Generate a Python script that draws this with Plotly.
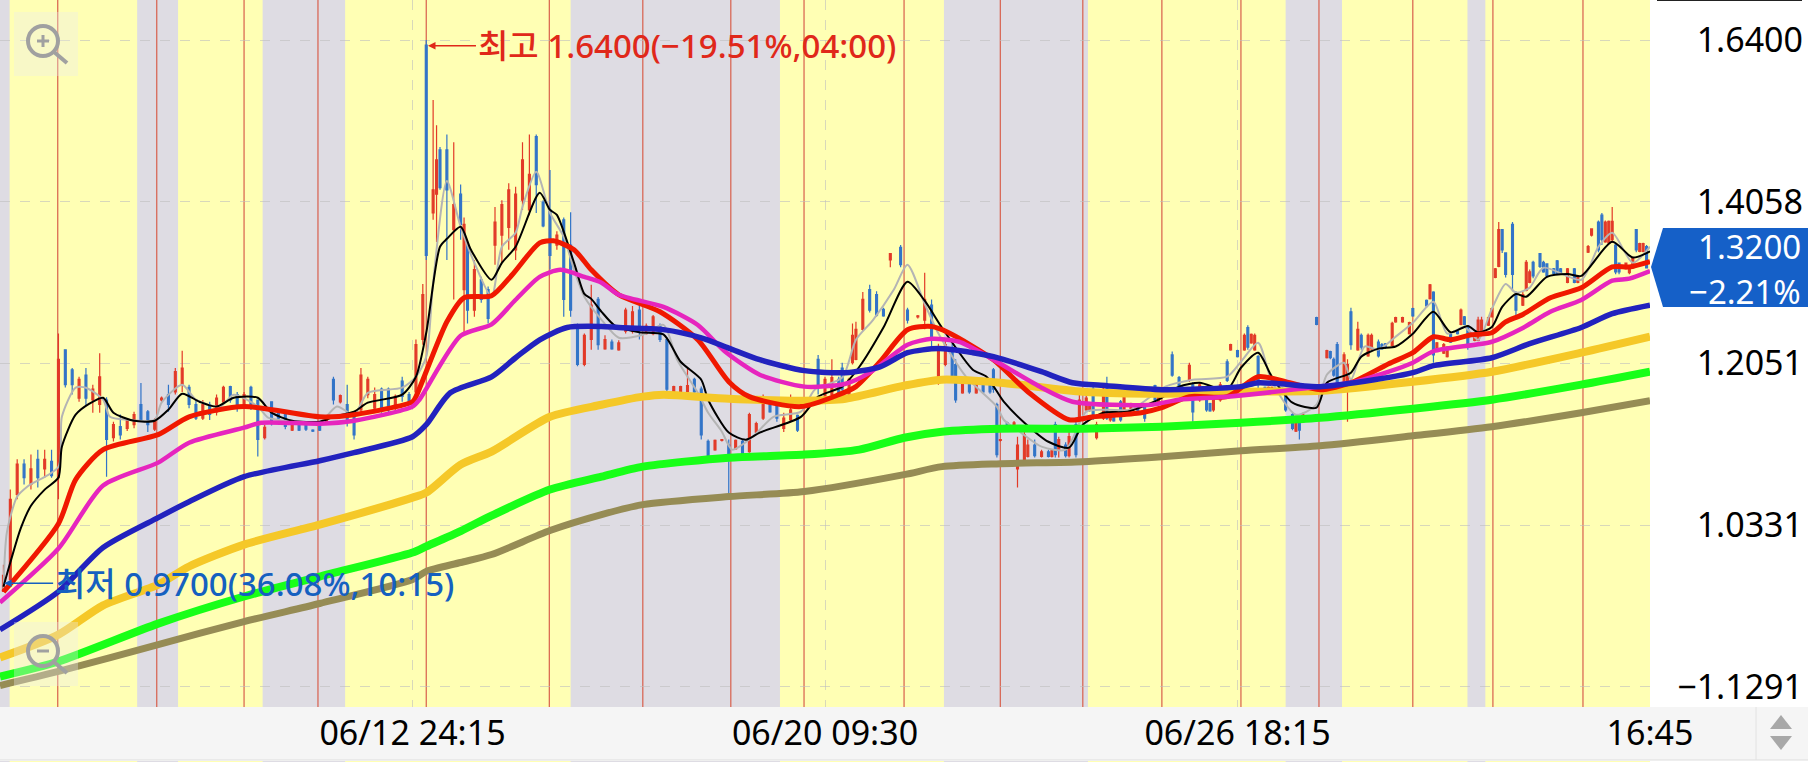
import math
import plotly.graph_objects as go

W, H, PLOT_R, PLOT_B = 1811, 762, 1650, 707

x_tick_idx = [120, 240, 360, 480]
x_tick_text = ["06/12 24:15", "06/20 09:30", "06/26 18:15", "16:45"]
y_tick_vals = [1.64, 1.4058, 1.2051, 1.0331, 0.8857]
y_tick_text = ["1.6400", "1.4058", "1.2051", "1.0331", "−1.1291"]
last_price = "1.3200"
last_change = "−2.21%"
high_label = "최고 1.6400(−19.51%,04:00)"
low_label = "최저 0.9700(36.08%,10:15)"

# session bands and session-start markers, in bar index
grey_bands = [(0, 2.8), (39.9, 51.8), (76.4, 100.4), (166, 226.9), (274.6, 316.5), (374, 390.4), (426.9, 432.1)]
session_marks = [16.8, 45.6, 71, 92.5, 124, 159.8, 187, 212.6, 233.9, 263, 291, 315, 338, 361, 383.7, 411, 434.3, 460.5]

bar_idx = [1,3,5,7,9,11,13,15,17,19,21,23,25,27,29,31,33,35,37,39,
 41,43,45,47,49,51,53,55,57,59,61,63,65,67,69,71,73,75,77,79,
 81,83,85,87,89,91,93,95,97,99,101,103,105,107,109,111,113,115,117,119,
 121,123,124,126,127,128,130,132,134,135,136,138,140,142,144,146,148,150,152,154,
 156,158,160,162,164,166,168,170,172,174,176,178,180,182,184,186,188,190,192,194,
 196,198,200,202,204,206,208,210,212,214,216,218,220,222,224,226,228,230,232,238,
 240,242,244,245,247,248,249,251,253,255,257,259,262,264,267,269,271,273,275,277,
 278,280,282,284,286,288,289,290,291,293,295,296,298,299,301,303,305,306,307,308,
 310,311,313,314,316,317,318,319,321,322,323,324,326,327,329,331,333,336,337,341,
 343,344,346,347,349,351,352,353,355,357,358,360,362,363,364,365,366,368,369,370,
 372,373,374,376,377,378,379,383,386,387,388,389,391,392,393,395,396,398,399,401,
 402,403,405,406,408,410,411,415,416,417,418,420,421,422,424,425,426,427,429,430,
 431,433,434,435,436,437,438,440,441,443,444,445,446,448,449,450,452,453,454,456,
 458,459,462,463,465,466,467,468,469,470,471,473,474,475,476,477,478,479]

bar_open = [.970,.981,1.064,1.095,1.074,1.100,1.090,1.098,1.081,1.221,1.198,1.166,1.192,1.164,1.159,1.164,1.123,1.135,1.133,1.137,
 1.159,1.151,1.132,1.164,1.170,1.173,1.181,1.178,1.159,1.144,1.159,1.151,1.162,1.179,1.170,1.159,1.178,1.164,1.123,1.162,
 1.151,1.149,1.131,1.138,1.136,1.131,1.139,1.140,1.187,1.162,1.159,1.149,1.153,1.170,1.155,1.176,1.176,1.155,1.185,1.170,
 1.173,1.233,1.632,1.391,1.416,1.477,1.477,1.369,1.416,1.293,1.349,1.268,1.305,1.293,1.349,1.362,1.372,1.343,1.408,1.395,
 1.496,1.405,1.395,1.349,1.382,1.349,1.250,1.204,1.233,1.281,1.222,1.230,1.221,1.243,1.243,1.268,1.240,1.240,1.249,1.233,
 1.172,1.172,1.173,1.187,1.176,1.119,1.110,1.120,1.115,1.111,1.119,1.108,1.129,1.144,1.160,1.159,1.133,1.142,1.147,1.210,
 1.164,1.170,1.187,1.200,1.170,1.206,1.210,1.245,1.293,1.287,1.269,1.330,1.346,1.268,1.260,1.256,1.274,1.185,1.204,1.221,
 1.204,1.172,1.185,1.172,1.185,1.182,1.198,1.159,1.120,1.139,1.131,1.090,1.095,1.103,1.115,1.103,1.108,1.103,1.137,1.110,
 1.115,1.104,1.137,1.142,1.153,1.153,1.176,1.123,1.144,1.181,1.142,1.148,1.162,1.153,1.152,1.159,1.157,1.180,1.161,1.215,
 1.189,1.178,1.186,1.181,1.164,1.165,1.160,1.153,1.164,1.207,1.221,1.220,1.221,1.247,1.229,1.221,1.213,1.178,1.172,1.172,
 1.172,1.177,1.170,1.148,1.130,1.138,1.140,1.259,1.212,1.219,1.210,1.227,1.181,1.181,1.266,1.221,1.238,1.214,1.222,1.230,
 1.227,1.228,1.226,1.254,1.254,1.240,1.270,1.280,1.282,1.290,1.221,1.217,1.213,1.239,1.243,1.251,1.260,1.249,1.232,1.232,
 1.240,1.250,1.260,1.308,1.322,1.369,1.339,1.376,1.287,1.274,1.292,1.302,1.327,1.338,1.327,1.325,1.319,1.329,1.319,1.302,
 1.319,1.302,1.340,1.362,1.379,1.388,1.353,1.352,1.356,1.349,1.326,1.319,1.314,1.320,1.369,1.341,1.341,1.347]

bar_high = [.995,1.069,1.100,1.100,1.105,1.110,1.110,1.110,1.240,1.221,1.200,1.190,1.200,1.181,1.217,1.167,1.140,1.148,1.144,1.151,
 1.183,1.153,1.144,1.168,1.181,1.200,1.220,1.181,1.164,1.164,1.162,1.170,1.180,1.180,1.173,1.173,1.180,1.164,1.137,1.162,
 1.153,1.151,1.139,1.140,1.138,1.132,1.140,1.144,1.190,1.170,1.181,1.151,1.200,1.190,1.178,1.178,1.178,1.170,1.190,1.173,
 1.233,1.300,1.640,1.549,1.512,1.481,1.499,1.488,1.429,1.385,1.349,1.330,1.309,1.297,1.399,1.408,1.431,1.426,1.488,1.499,
 1.499,1.408,1.449,1.367,1.385,1.392,1.252,1.240,1.299,1.284,1.238,1.233,1.232,1.271,1.273,1.278,1.252,1.262,1.252,1.236,
 1.180,1.180,1.200,1.189,1.179,1.121,1.121,1.121,1.121,1.121,1.121,1.150,1.140,1.170,1.161,1.164,1.150,1.170,1.148,1.215,
 1.190,1.210,1.190,1.206,1.189,1.252,1.254,1.290,1.299,1.291,1.271,1.339,1.349,1.271,1.262,1.314,1.281,1.228,1.233,1.228,
 1.210,1.187,1.187,1.187,1.187,1.183,1.200,1.161,1.121,1.140,1.141,1.124,1.135,1.121,1.121,1.110,1.110,1.110,1.140,1.124,
 1.118,1.129,1.140,1.170,1.170,1.159,1.179,1.140,1.183,1.190,1.150,1.150,1.164,1.170,1.161,1.160,1.159,1.181,1.176,1.219,
 1.191,1.180,1.206,1.184,1.184,1.167,1.161,1.170,1.184,1.210,1.228,1.221,1.240,1.250,1.240,1.240,1.215,1.179,1.179,1.179,
 1.178,1.178,1.172,1.150,1.141,1.140,1.150,1.260,1.221,1.220,1.212,1.230,1.218,1.210,1.271,1.254,1.240,1.240,1.240,1.233,
 1.229,1.229,1.254,1.260,1.260,1.254,1.271,1.281,1.300,1.291,1.230,1.229,1.225,1.240,1.245,1.270,1.261,1.250,1.240,1.260,
 1.260,1.260,1.271,1.320,1.379,1.370,1.340,1.379,1.291,1.290,1.330,1.318,1.329,1.339,1.329,1.326,1.320,1.330,1.320,1.320,
 1.320,1.310,1.349,1.371,1.381,1.391,1.381,1.381,1.399,1.352,1.327,1.327,1.320,1.334,1.370,1.352,1.352,1.349]

bar_low = [.970,.976,1.059,1.074,1.069,1.071,1.081,1.081,1.059,1.178,1.170,1.162,1.157,1.150,1.150,1.082,1.119,1.121,1.130,1.133,
 1.142,1.129,1.130,1.162,1.151,1.170,1.173,1.155,1.142,1.142,1.142,1.147,1.159,1.161,1.151,1.159,1.153,1.103,1.121,1.136,
 1.142,1.132,1.130,1.130,1.130,1.129,1.130,1.139,1.159,1.160,1.135,1.121,1.150,1.166,1.150,1.150,1.150,1.150,1.162,1.158,
 1.170,1.227,1.330,1.382,1.353,1.422,1.330,1.281,1.356,1.240,1.252,1.260,1.277,1.252,1.324,1.327,1.343,1.330,1.395,1.388,
 1.391,1.372,1.318,1.343,1.260,1.260,1.202,1.202,1.221,1.221,1.221,1.221,1.220,1.240,1.240,1.233,1.239,1.238,1.230,1.172,
 1.171,1.171,1.172,1.172,1.121,1.102,1.109,1.119,1.061,1.110,1.102,1.107,1.128,1.142,1.150,1.140,1.129,1.140,1.129,1.170,
 1.161,1.168,1.161,1.172,1.168,1.204,1.209,1.243,1.265,1.260,1.260,1.321,1.321,1.252,1.258,1.245,1.225,1.181,1.202,1.184,
 1.161,1.171,1.171,1.171,1.171,1.171,1.172,1.102,1.119,1.130,1.130,1.071,1.093,1.102,1.102,1.102,1.102,1.102,1.102,1.102,
 1.102,1.102,1.102,1.139,1.152,1.151,1.142,1.121,1.142,1.142,1.140,1.140,1.140,1.151,1.151,1.151,1.140,1.161,1.160,1.190,
 1.179,1.164,1.184,1.140,1.162,1.151,1.151,1.151,1.162,1.184,1.220,1.212,1.220,1.221,1.228,1.220,1.172,1.171,1.171,1.171,
 1.171,1.171,1.151,1.131,1.129,1.121,1.139,1.250,1.211,1.210,1.190,1.179,1.180,1.140,1.221,1.220,1.221,1.213,1.221,1.212,
 1.221,1.222,1.225,1.253,1.253,1.239,1.260,1.271,1.281,1.206,1.220,1.216,1.212,1.229,1.239,1.250,1.250,1.221,1.231,1.231,
 1.239,1.249,1.259,1.307,1.321,1.339,1.308,1.291,1.262,1.273,1.291,1.301,1.307,1.320,1.314,1.308,1.312,1.312,1.312,1.301,
 1.301,1.301,1.339,1.360,1.340,1.349,1.352,1.351,1.352,1.312,1.312,1.318,1.312,1.319,1.340,1.340,1.340,1.320]

bar_close = [.985,1.059,1.095,1.081,1.090,1.081,1.100,1.083,1.210,1.181,1.181,1.187,1.166,1.176,1.190,1.121,1.137,1.126,1.142,1.148,
 1.142,1.137,1.141,1.166,1.159,1.196,1.200,1.159,1.144,1.159,1.148,1.166,1.178,1.164,1.155,1.170,1.159,1.121,1.134,1.138,
 1.144,1.135,1.137,1.131,1.132,1.130,1.131,1.143,1.164,1.169,1.142,1.126,1.192,1.187,1.170,1.153,1.153,1.168,1.168,1.162,
 1.227,1.287,1.336,1.422,1.463,1.425,1.422,1.402,1.376,1.376,1.268,1.318,1.281,1.258,1.379,1.402,1.422,1.416,1.463,1.443,
 1.429,1.374,1.336,1.362,1.281,1.268,1.204,1.238,1.274,1.227,1.233,1.222,1.229,1.268,1.266,1.245,1.249,1.260,1.233,1.176,
 1.179,1.179,1.180,1.173,1.126,1.104,1.120,1.121,1.100,1.120,1.103,1.148,1.138,1.166,1.151,1.144,1.144,1.153,1.131,1.181,
 1.187,1.189,1.164,1.176,1.187,1.238,1.245,1.281,1.268,1.262,1.261,1.338,1.324,1.256,1.261,1.281,1.233,1.221,1.227,1.187,
 1.164,1.185,1.173,1.185,1.173,1.173,1.176,1.105,1.121,1.131,1.139,1.115,1.126,1.115,1.104,1.108,1.103,1.109,1.105,1.121,
 1.104,1.124,1.105,1.164,1.166,1.157,1.148,1.137,1.176,1.144,1.148,1.141,1.142,1.168,1.160,1.152,1.144,1.164,1.173,1.192,
 1.180,1.166,1.203,1.151,1.181,1.153,1.152,1.168,1.181,1.186,1.227,1.213,1.238,1.224,1.239,1.238,1.181,1.172,1.178,1.178,
 1.177,1.172,1.153,1.133,1.139,1.131,1.148,1.251,1.220,1.212,1.192,1.181,1.215,1.204,1.227,1.245,1.224,1.238,1.238,1.214,
 1.222,1.224,1.252,1.259,1.259,1.253,1.261,1.273,1.299,1.215,1.229,1.227,1.224,1.230,1.240,1.268,1.251,1.224,1.239,1.256,
 1.256,1.259,1.270,1.319,1.369,1.343,1.312,1.312,1.268,1.287,1.327,1.315,1.310,1.322,1.315,1.310,1.313,1.313,1.313,1.319,
 1.302,1.308,1.347,1.370,1.343,1.356,1.379,1.380,1.380,1.315,1.315,1.326,1.319,1.333,1.343,1.351,1.351,1.320]

grey_x = [1,2,5,8,17,18,22,25,30,32,37,45,47,53,57,64,68,75,78,83,93,98,103,107,117,121,124,126,130,134,138,143,146,150,152,156,160,164,
 167,170,175,180,187,193,197,203,206,210,213,219,225,233,237,245,249,254,260,264,269,273,281,290,292,297,303,310,316,322,329,339,347,357,
 361,366,370,377,383,386,391,393,397,401,406,411,417,421,426,430,434,438,441,445,449,460,465,469,475,480]
grey_ma = [.9717,1.0261,1.0617,1.0720,1.0924,1.1455,1.1777,1.1777,1.1643,1.1455,1.1423,1.1423,1.1610,1.1811,1.1643,1.1567,1.1699,1.1567,1.1445,1.1412,1.1391,1.1567,1.1478,1.1720,1.1777,1.1901,1.2130,1.3016,1.4339,1.3728,1.3265,1.2843,1.3469,1.3649,1.3992,1.4465,1.3911,1.3597,
 1.3176,1.2843,1.2564,1.2351,1.2386,1.2503,1.2095,1.1720,1.1500,1.1294,1.1102,1.1240,1.1455,1.1511,1.1755,1.1890,1.2327,1.2564,1.2928,1.3240,1.2757,1.2400,1.1901,1.1567,1.1423,1.1284,1.1134,1.1102,1.1511,1.1533,1.1533,1.1789,1.1867,1.1901,
 1.2072,1.2292,1.1845,1.1478,1.1588,1.1924,1.2060,1.1867,1.2248,1.2212,1.2363,1.2528,1.2782,1.2400,1.2478,1.2327,1.2695,1.3000,1.2892,1.2955,1.3202,1.3052,1.3469,1.3649,1.3265,1.3469]

black_x = [1,3,6,9,13,17,18,22,26,30,33,39,45,49,53,58,63,68,75,79,85,93,97,103,107,117,121,124,128,130,134,137,143,146,150,157,160,162,167,170,172,175,179,186,193,198,204,206,212,217,221,233,238,245,250,257,264,269,274,283,287,292,298,305,311,315,321,328,337,343,349,357,361,366,370,376,383,386,393,396,401,406,411,417,422,427,430,434,437,441,444,450,456,460,469,475,480]
black_ma = [.9744,.9971,1.0298,1.0524,1.0688,1.0811,1.1133,1.1478,1.1600,1.1665,1.1500,1.1412,1.1412,1.1533,1.1710,1.1621,1.1567,1.1665,1.1665,1.1500,1.1412,1.1402,1.1455,1.1511,1.1610,1.1699,1.1901,1.2410,1.3469,1.3571,1.3728,1.3430,1.3052,1.3264,1.3470,1.4179,1.3950,1.3884,1.3264,1.2877,1.2817,1.2660,1.2490,1.2415,1.2390,1.2072,1.1867,1.1643,1.1284,1.1208,1.1284,1.1455,1.1677,1.1789,1.2014,1.2472,1.3028,1.2794,1.2472,1.1981,1.1901,1.1621,1.1391,1.1186,1.1123,1.1369,1.1500,1.1511,1.1643,1.1789,1.1833,1.1755,1.2003,1.2176,1.1901,1.1610,1.1556,1.1833,1.1947,1.2130,1.2224,1.2248,1.2398,1.2660,1.2415,1.2490,1.2415,1.2478,1.2719,1.2877,1.2843,1.3088,1.3125,1.3100,1.3532,1.3331,1.3411]

red_x = [1,17,22,30,46,55,71,93,103,120,121,130,135,143,149,157,161,167,172,180,192,203,212,218,233,244,249,256,264,271,276,289,299,311,318,332,338,346,357,366,374,384,393,404,411,417,422,428,434,438,443,451,460,469,474,480]
red_ma = [.9695,1.0347,1.0790,1.1102,1.1262,1.1455,1.1567,1.1455,1.1478,1.1621,1.1677,1.2540,1.2831,1.2855,1.3115,1.3519,1.3545,1.3430,1.3176,1.2867,1.2660,1.2327,1.1845,1.1677,1.1567,1.1699,1.1789,1.2072,1.2445,1.2484,1.2410,1.2095,1.1732,1.1423,1.1455,1.1500,1.1556,1.1677,1.1677,1.1901,1.1845,1.1755,1.1833,1.2049,1.2176,1.2363,1.2327,1.2387,1.2410,1.2540,1.2628,1.2831,1.2953,1.3213,1.3213,1.3280]

magenta_x = [0,17,30,46,55,71,76,93,103,120,122,134,143,150,157,163,170,175,180,193,203,211,221,234,246,253,264,271,279,289,303,312,335,343,357,384,393,404,411,417,434,443,451,460,469,474,480]
magenta_ma = [.9598,1.0104,1.0729,1.0966,1.1176,1.1337,1.1391,1.1380,1.1412,1.1567,1.1643,1.2374,1.2510,1.2806,1.3088,1.3176,1.3088,1.3016,1.2867,1.2719,1.2502,1.2187,1.1924,1.1789,1.1822,1.1947,1.2269,1.2338,1.2304,1.2095,1.1777,1.1621,1.1588,1.1643,1.1677,1.1789,1.1833,1.1958,1.2060,1.2193,1.2304,1.2467,1.2660,1.2803,1.3040,1.3066,1.3160]

navy_x = [0,17,30,46,55,71,93,103,120,124,131,143,150,157,165,175,180,193,204,212,221,234,246,256,264,273,283,289,303,312,322,338,361,366,384,394,411,417,434,445,460,469,480]
navy_ma = [.9353,.9699,1.0114,1.0406,1.0565,1.0820,1.0986,1.1071,1.1240,1.1369,1.1720,1.1900,1.2118,1.2327,1.2472,1.2484,1.2472,1.2447,1.2350,1.2230,1.2095,1.1970,1.1947,1.2014,1.2176,1.2224,1.2176,1.2130,1.1958,1.1833,1.1800,1.1755,1.1789,1.1833,1.1789,1.1833,1.1947,1.2027,1.2118,1.2281,1.2472,1.2637,1.2740]

gold_x = [0,17,30,46,55,71,93,120,124,134,143,160,175,187,193,212,234,246,263,274,291,315,338,361,384,411,434,460,480]
gold_ma = [.9108,.9309,.9572,.9764,.9933,1.0142,1.0337,1.0606,1.0657,1.0945,1.1082,1.1455,1.1587,1.1677,1.1699,1.1654,1.1632,1.1654,1.1800,1.1867,1.1833,1.1732,1.1710,1.1732,1.1743,1.1845,1.1958,1.2176,1.2363]

green_x = [0,17,46,71,93,120,124,134,143,160,175,187,212,234,250,263,274,291,315,338,361,384,411,434,460,480]
green_ma = [.8945,.9074,.9407,.9653,.9838,1.0066,1.0125,1.0274,1.0426,1.0688,1.0821,1.0924,1.1018,1.1050,1.1103,1.1229,1.1294,1.1326,1.1326,1.1348,1.1391,1.1445,1.1544,1.1643,1.1811,1.1958]

olive_x = [0,17,46,71,93,120,124,134,143,160,175,187,212,234,263,274,291,315,338,361,384,411,434,460,480]
olive_ma = [.8869,.8988,.9221,.9425,.9589,.9810,.9887,.9971,1.0047,1.0279,1.0436,1.0536,1.0617,1.0668,1.0841,1.0924,1.0955,1.0976,1.1028,1.1091,1.1144,1.1250,1.1348,1.1500,1.1632]

FONT = "Noto Sans, Noto Sans CJK KR, sans-serif"
YELLOW, GREY_BAND, STRIP, MARK = "#FFFFB4", "#DEDCE3", "#F5F5F5", "#D85F4C"
GRID = "rgba(190,190,190,0.6)"

def px(x):
    return x / W
def py(y):
    return (PLOT_B - y) / PLOT_B

fig = go.Figure()
fig.add_trace(go.Candlestick(
    x=bar_idx, open=bar_open, high=bar_high, low=bar_low, close=bar_close,
    increasing=dict(line=dict(color="#E23A28", width=1.2), fillcolor="#E23A28"),
    decreasing=dict(line=dict(color="#3274C8", width=1.2), fillcolor="#3274C8"),
    whiskerwidth=0, hoverinfo="skip", showlegend=False))

for xs, ys, color, width in [
    (grey_x, grey_ma, "#B4B4B4", 2),
    (black_x, black_ma, "#000000", 2),
    (olive_x, olive_ma, "#968C55", 7),
    (green_x, green_ma, "#18FF18", 8),
    (gold_x, gold_ma, "#F5C828", 8),
    (red_x, red_ma, "#F01800", 5),
    (magenta_x, magenta_ma, "#E625BE", 4.5),
    (navy_x, navy_ma, "#2222BE", 5.5),
]:
    fig.add_trace(go.Scatter(x=xs, y=ys, mode="lines",
                             line=dict(color=color, width=width, shape="spline", smoothing=0.7),
                             hoverinfo="skip", showlegend=False))

shapes = []
# bottom time strip
shapes.append(dict(type="rect", xref="paper", yref="paper", x0=0, x1=px(1808), y0=py(760), y1=py(707),
                   fillcolor=STRIP, line_width=0, layer="below"))
shapes.append(dict(type="line", xref="paper", yref="paper", x0=0, x1=px(1808), y0=py(760), y1=py(760),
                   line=dict(color="#DDDDDD", width=1), layer="below"))
shapes.append(dict(type="line", xref="paper", yref="paper", x0=px(1756), x1=px(1756), y0=py(760), y1=py(707),
                   line=dict(color="#E2E2E2", width=1), layer="below"))
shapes.append(dict(type="line", xref="paper", yref="paper", x0=px(1657), x1=px(1802), y0=1, y1=1,
                   line=dict(color="#222222", width=2), layer="below"))
# thin sliver of the chart under the strip
shapes.append(dict(type="rect", xref="x", yref="paper", x0=0, x1=480, y0=py(762), y1=py(761),
                   fillcolor=YELLOW, line_width=0, layer="below"))
for a, b in grey_bands:
    shapes.append(dict(type="rect", xref="x", yref="paper", x0=a, x1=b, y0=0, y1=1,
                       fillcolor=GREY_BAND, line_width=0, layer="below"))
    shapes.append(dict(type="rect", xref="x", yref="paper", x0=a, x1=b, y0=py(762), y1=py(761),
                       fillcolor=GREY_BAND, line_width=0, layer="below"))
for m in session_marks:
    shapes.append(dict(type="line", xref="x", yref="paper", x0=m, x1=m, y0=0, y1=1,
                       line=dict(color=MARK, width=1.2), layer="between"))

def tri(xc, half, y_tip, y_base):
    return (f"M {px(xc)} {py(y_tip)} L {px(xc + half)} {py(y_base)} L {px(xc - half)} {py(y_base)} Z")
shapes.append(dict(type="path", xref="paper", yref="paper", path=tri(1781, 11, 715, 729), fillcolor="#A8A8A8", line_width=0))
shapes.append(dict(type="path", xref="paper", yref="paper", path=tri(1781, 11, 750, 736), fillcolor="#A8A8A8", line_width=0))

# current price tag
tag = f"M {px(1651)} {py(267)} L {px(1663)} {py(228)} L {px(1808)} {py(228)} L {px(1808)} {py(307)} L {px(1663)} {py(307)} Z"
shapes.append(dict(type="path", xref="paper", yref="paper", path=tag, fillcolor="#1560C8", line_width=0))

# zoom buttons
def zoom_icon(top, plus):
    cx, cy, r = 43, top + 29, 15
    items = [
        dict(type="rect", xref="paper", yref="paper", x0=px(14), x1=px(78), y0=py(top + 64), y1=py(top),
             fillcolor="rgba(235,235,235,0.35)", line_width=0),
        dict(type="circle", xref="paper", yref="paper", x0=px(cx - r), x1=px(cx + r), y0=py(cy + r), y1=py(cy - r),
             line=dict(color="#A0A0A0", width=4)),
        dict(type="line", xref="paper", yref="paper", x0=px(cx + 11), x1=px(cx + 24), y0=py(cy + 11), y1=py(cy + 22),
             line=dict(color="#A0A0A0", width=4)),
        dict(type="line", xref="paper", yref="paper", x0=px(cx - 6), x1=px(cx + 6), y0=py(cy), y1=py(cy),
             line=dict(color="#A0A0A0", width=3)),
    ]
    if plus:
        items.append(dict(type="line", xref="paper", yref="paper", x0=px(cx), x1=px(cx), y0=py(cy + 6), y1=py(cy - 6),
                          line=dict(color="#A0A0A0", width=3)))
    return items
shapes += zoom_icon(12, True) + zoom_icon(622, False)

annotations = [
    dict(x=124.5, y=math.log10(1.631), xref="x", yref="y", text=high_label, showarrow=True, ax=48, ay=0,
         xanchor="left", arrowhead=2, arrowwidth=1.5, arrowcolor="#E0281A", arrowside="end", standoff=0,
         font=dict(family=FONT, size=33, color="#E0281A", weight=500)),
    dict(x=1.2, y=math.log10(0.9776), xref="x", yref="y", text=low_label, showarrow=True, ax=49, ay=0,
         xanchor="left", arrowhead=2, arrowwidth=1.5, arrowcolor="#1560C0", arrowside="end", standoff=0,
         font=dict(family=FONT, size=33, color="#1560C0", weight=500)),
    dict(x=px(1802), y=py(246), xref="paper", yref="paper", text=last_price, showarrow=False, xanchor="right",
         yanchor="middle", borderpad=0, font=dict(family=FONT, size=33, color="white")),
    dict(x=px(1802), y=py(291), xref="paper", yref="paper", text=last_change, showarrow=False, xanchor="right",
         yanchor="middle", borderpad=0, font=dict(family=FONT, size=33, color="white")),
]

fig.update_layout(
    width=W, height=H, margin=dict(l=0, r=0, t=0, b=H - PLOT_B, autoexpand=False),
    paper_bgcolor="white", plot_bgcolor=YELLOW, showlegend=False, dragmode=False,
    boxgap=0.45, boxgroupgap=0,
    shapes=shapes, annotations=annotations,
    font=dict(family=FONT, color="#000000", size=34),
    xaxis=dict(domain=[0, PLOT_R / W], range=[0, 480], tickmode="array", tickvals=x_tick_idx, ticktext=x_tick_text,
               showgrid=True, gridcolor=GRID, griddash="10px,10px", gridwidth=1, ticks="", ticklen=0,
               showline=False, zeroline=False, rangeslider=dict(visible=False), tickangle=0, automargin=False,
               ticklabelstandoff=3, tickfont=dict(family=FONT, size=34, color="#000000")),
    yaxis=dict(type="log", range=[math.log10(0.8689), math.log10(1.7037)], side="left", anchor="free",
               position=1803 / W, tickmode="array", tickvals=y_tick_vals, ticktext=y_tick_text, automargin=False,
               showgrid=True, gridcolor=GRID, griddash="10px,10px", gridwidth=1, ticks="", ticklen=0,
               showline=False, zeroline=False, tickfont=dict(family=FONT, size=34, color="#000000")),
)

fig.write_html("out.html", config=dict(displayModeBar=False, staticPlot=True),
               post_script="document.body.style.margin='0';document.body.style.overflow='hidden';")
